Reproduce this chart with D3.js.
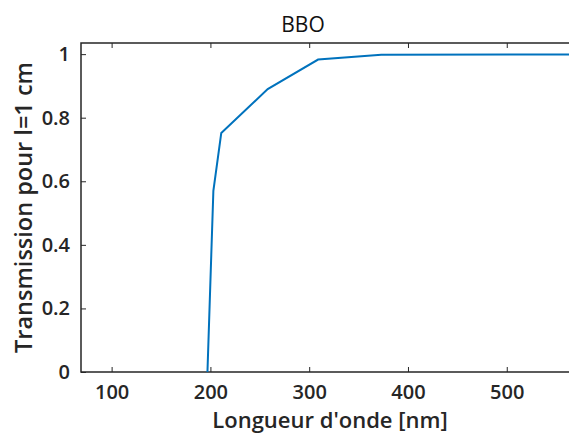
<!DOCTYPE html>
<html><head><meta charset="utf-8">
<script src="https://cdn.jsdelivr.net/npm/d3@7/dist/d3.min.js"></script>
<style>body{margin:0;background:#fff;} svg{display:block;}</style>
</head><body>
<svg id="c" width="569" height="435"></svg>
<script>
const wavelengths = [197, 203, 211, 258, 309, 373, 563];
const transmission = [0, 0.57, 0.752, 0.89, 0.983, 0.998, 0.999];
const xTicks = [100, 200, 300, 400, 500];
const yTicks = [0, 0.2, 0.4, 0.6, 0.8, 1];
const yTickLabels = ["0", "0.2", "0.4", "0.6", "0.8", "1"];
const titleText = "BBO";
const xLabelText = "Longueur d'onde [nm]";
const yLabelText = "Transmission pour l=1 cm";

const svg = d3.select("#c");
const L = 81, R = 569, T = 43, B = 372;
const x = d3.scaleLinear().domain([69, 563]).range([L, R]);
const y = d3.scaleLinear().domain([0, 1.035]).range([B, T]);
const font = "'Open Sans', sans-serif";
const axisCol = "#262626";

svg.append("defs").append("clipPath").attr("id","clip")
  .append("rect").attr("x",L).attr("y",T).attr("width",R-L).attr("height",B-T);

svg.append("path").attr("d",`M${R+5},${T}H${L}V${B}H${R+5}`)
  .attr("fill","none").attr("stroke",axisCol).attr("stroke-width",1.5);

const xb = svg.append("g").attr("transform",`translate(0,${B})`)
  .call(d3.axisBottom(x).tickValues(xTicks).tickSizeInner(-5).tickSizeOuter(0).tickPadding(12.5));
const xt = svg.append("g").attr("transform",`translate(0,${T})`)
  .call(d3.axisTop(x).tickValues(xTicks).tickSizeInner(-5).tickSizeOuter(0).tickFormat(""));
const yl = svg.append("g").attr("transform",`translate(${L},0)`)
  .call(d3.axisLeft(y).tickValues(yTicks).tickSizeInner(-5).tickSizeOuter(0).tickPadding(11)
    .tickFormat((d,i)=>yTickLabels[i]));
[xb,xt,yl].forEach(g=>{
  g.select(".domain").remove();
  g.selectAll("line").attr("stroke",axisCol).attr("stroke-width",1);
  g.selectAll("text").attr("fill",axisCol).style("font-family",font)
    .style("font-size","20px").style("font-weight","600");
});

svg.append("path").datum(wavelengths.map((w,i)=>[w,transmission[i]]))
  .attr("clip-path","url(#clip)")
  .attr("fill","none").attr("stroke","#0072BD").attr("stroke-width",2)
  .attr("d", d3.line().x(d=>x(d[0])).y(d=>y(d[1])));

svg.append("text").attr("x",303).attr("y",32).attr("text-anchor","middle")
  .attr("fill","#111").style("font-family",font).style("font-size","21px")
  .text(titleText);
svg.append("text").attr("x",330).attr("y",428).attr("text-anchor","middle")
  .attr("fill",axisCol).style("font-family",font).style("font-size","22px").style("font-weight","600")
  .text(xLabelText);
svg.append("text").attr("transform",`translate(32,${(T+B)/2}) rotate(-90)`)
  .attr("text-anchor","middle")
  .attr("fill",axisCol).style("font-family",font).style("font-size","23.5px").style("font-weight","600")
  .text(yLabelText);
</script>
</body></html>
